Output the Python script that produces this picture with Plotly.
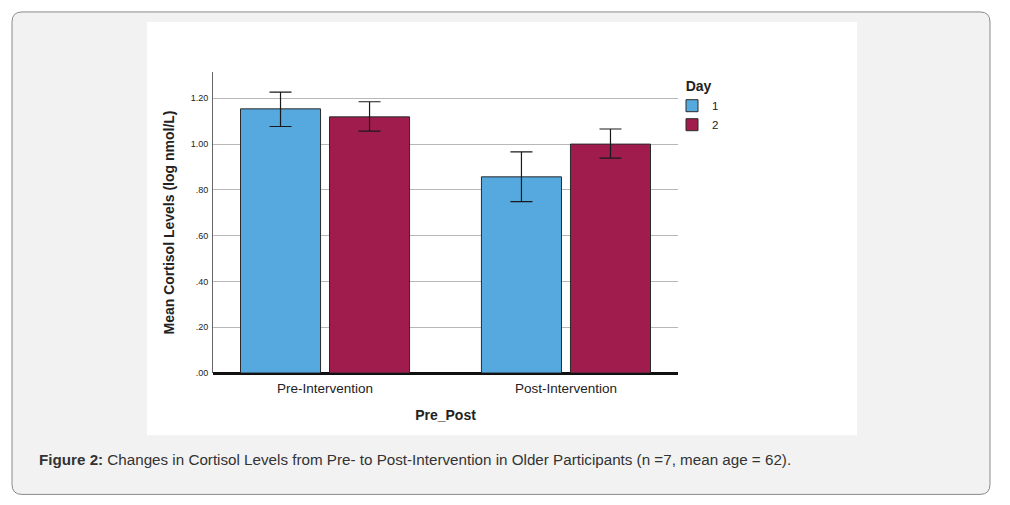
import plotly.graph_objects as go

categories = ["Pre-Intervention", "Post-Intervention"]
days = ["1", "2"]
day1_means = [1.154, 0.857]
day1_upper = [1.227, 0.966]
day1_lower = [1.077, 0.749]
day2_means = [1.119, 1.000]
day2_upper = [1.185, 1.066]
day2_lower = [1.057, 0.939]
y_tickvals = [0.0, 0.2, 0.4, 0.6, 0.8, 1.0, 1.2]
y_ticktext = [".00", ".20", ".40", ".60", ".80", "1.00", "1.20"]
caption = "<b>Figure 2:</b> Changes in Cortisol Levels from Pre- to Post-Intervention in Older Participants (n =7, mean age = 62)."

colors = ["#56a9de", "#9f1c4c"]

# page has an 8px body margin, so the figure is drawn offset by (8, 8)
OFF = 8
W, H = 994, 489
# plot area in screen pixels
L, R, T, B = 213, 678, 72, 372.7


def px(x):
    return (x - L) / (R - L)


def py(y):
    return (B - y) / (B - T)


fig = go.Figure()
for name, means, up, lo, col in [
    (days[0], day1_means, day1_upper, day1_lower, colors[0]),
    (days[1], day2_means, day2_upper, day2_lower, colors[1]),
]:
    fig.add_trace(go.Bar(
        x=[0, 1], y=means, name=name,
        marker=dict(color=col, line=dict(color="#2a2a2a", width=1)),
        error_y=dict(type="data", symmetric=False,
                     array=[u - m for u, m in zip(up, means)],
                     arrayminus=[m - l for m, l in zip(means, lo)],
                     color="#1a1a1a", thickness=1.2, width=11),
    ))

# background panels
r = 10
x0, x1, y0, y1 = px(12), px(990), py(12), py(494)
rx, ry = r / (R - L), r / (B - T)
path = (f"M {x0+rx},{y0} L {x1-rx},{y0} Q {x1},{y0} {x1},{y0-ry} "
        f"L {x1},{y1+ry} Q {x1},{y1} {x1-rx},{y1} L {x0+rx},{y1} "
        f"Q {x0},{y1} {x0},{y1+ry} L {x0},{y0-ry} Q {x0},{y0} {x0+rx},{y0} Z")
shapes = [
    dict(type="path", xref="paper", yref="paper", path=path,
         fillcolor="#f2f2f2", line=dict(color="#8a8a8a", width=1), layer="below"),
    dict(type="rect", xref="paper", yref="paper", x0=px(147), x1=px(857),
         y0=py(22), y1=py(435), fillcolor="white", line=dict(width=0), layer="below"),
]

fig.update_layout(
    width=W, height=H,
    margin=dict(l=L - OFF, r=W - (R - OFF), t=T - OFF, b=H - (B - OFF), autoexpand=False),
    paper_bgcolor="white", plot_bgcolor="rgba(0,0,0,0)",
    barmode="group", bargap=0.261, bargroupgap=0.101,
    font=dict(family="Liberation Sans, Arial, sans-serif", color="#222"),
    shapes=shapes,
    showlegend=True,
    legend=dict(
        x=px(672), y=py(73), xanchor="left", yanchor="top",
        title=dict(text="&nbsp;&nbsp;&nbsp;<b>Day</b>", font=dict(size=14)),
        font=dict(size=11.5), bgcolor="rgba(0,0,0,0)",
        tracegroupgap=0, itemwidth=30,
    ),
    xaxis=dict(
        range=[-0.465, 1.465], tickvals=[0, 1], ticktext=categories,
        tickfont=dict(size=13.5, color="#222"), showgrid=False, zeroline=False,
        showline=False, ticks="", ticklabelstandoff=5,
        title=dict(text="<b>Pre_Post</b>", font=dict(size=14, color="#222"), standoff=15),
    ),
    yaxis=dict(
        range=[0, 1.315], tickvals=y_tickvals, ticktext=y_ticktext,
        tickfont=dict(size=9, color="#222"), ticklabelstandoff=2,
        showgrid=True, gridcolor="#b8b8b8", gridwidth=1,
        zeroline=True, zerolinecolor="#111", zerolinewidth=2.5,
        showline=True, linecolor="#666", linewidth=1, ticks="",
        title=dict(text="<b>Mean Cortisol Levels (log nmol/L)</b>",
                   font=dict(size=14, color="#222"), standoff=12),
    ),
    annotations=[dict(
        text=caption, xref="paper", yref="paper", x=px(37), y=py(459),
        xanchor="left", yanchor="middle", showarrow=False,
        font=dict(size=15.2, color="#333", family="Liberation Sans, Arial, sans-serif"),
    )],
)

fig.write_html("out.html")
